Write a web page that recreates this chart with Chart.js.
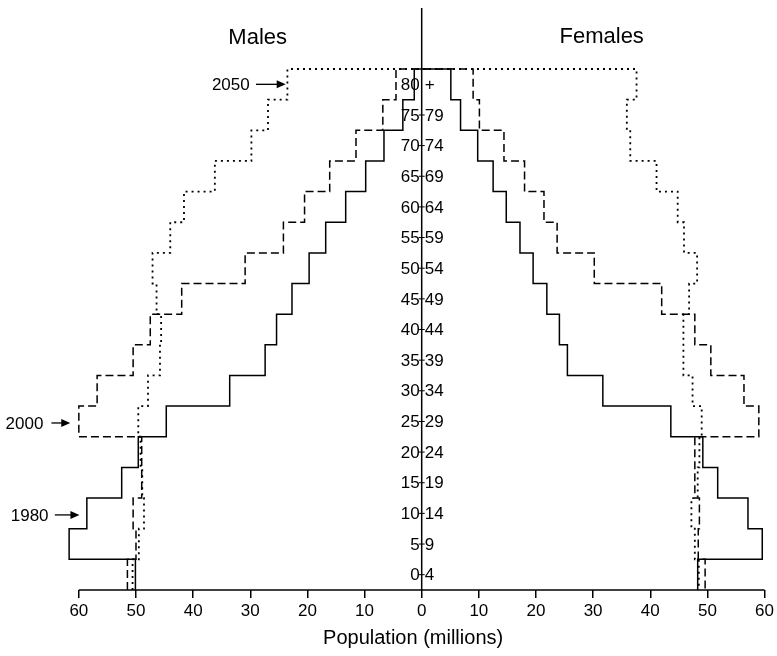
<!DOCTYPE html>
<html>
<head>
<meta charset="utf-8">
<script src="https://cdn.jsdelivr.net/npm/chart.js@4.4.1/dist/chart.umd.min.js"></script>
<style>
  body { margin: 0; background: #fff; }
  #wrap { width: 777px; height: 656px; }
</style>
</head>
<body>
<div id="wrap"><canvas id="pyramid"></canvas></div>
<script>
// age bands, youngest first
var ageGroups = ['0-4', '5-9', '10-14', '15-19', '20-24', '25-29', '30-34', '35-39', '40-44',
                 '45-49', '50-54', '55-59', '60-64', '65-69', '70-74', '75-79', '80+'];

// population in millions
var males1980   = [50.1, 61.7, 58.6, 52.5, 49.6, 44.7, 33.6, 27.4, 25.4, 22.7, 19.7, 16.8, 13.3, 9.8, 6.6, 3.3, 1.3];
var females1980 = [48.3, 59.6, 57.1, 51.8, 49.2, 43.6, 31.7, 25.5, 24.1, 21.9, 19.5, 17.2, 14.8, 12.5, 9.8, 6.8, 5.1];
var males2000   = [51.5, 50.0, 50.5, 49.0, 49.0, 60.0, 56.8, 50.5, 47.5, 42.0, 30.9, 24.2, 20.5, 16.1, 11.5, 6.8, 4.5];
var females2000 = [49.6, 48.4, 48.6, 47.8, 47.8, 59.0, 56.4, 50.6, 47.8, 42.0, 30.2, 23.7, 21.4, 18.0, 14.4, 10.1, 9.0];
var males2050   = [50.6, 49.5, 48.6, 48.9, 49.2, 49.6, 47.9, 45.8, 45.6, 46.4, 47.1, 44.0, 41.6, 36.2, 29.8, 26.9, 23.5];
var females2050 = [48.5, 47.8, 47.2, 48.3, 48.6, 49.0, 47.4, 45.8, 45.8, 46.8, 48.2, 45.9, 44.8, 41.1, 36.5, 35.9, 37.6];

var xTicks = [-60, -50, -40, -30, -20, -10, 0, 10, 20, 30, 40, 50, 60];

var FONT = '"Liberation Sans", Arial, Helvetica, sans-serif';

// one stepped outline per year: up the male side, across the top, down the female side
function outline(m, f) {
  var pts = [];
  for (var i = 0; i < m.length; i++) {
    pts.push({x: -m[i], y: i});
    pts.push({x: -m[i], y: i + 1});
  }
  for (var j = f.length - 1; j >= 0; j--) {
    pts.push({x: f[j], y: j + 1});
    pts.push({x: f[j], y: j});
  }
  return pts;
}

function lineSet(label, pts, width, dash) {
  return {
    label: label,
    data: pts,
    showLine: true,
    fill: false,
    tension: 0,
    pointRadius: 0,
    borderColor: '#000',
    borderWidth: width,
    borderDash: dash,
    borderJoinStyle: 'miter',
    clip: false
  };
}

// year labels with arrows (value coords of text end, arrow start, arrow tip, band)
var yearNotes = [
  {text: '2050', textEnd: -30.1, from: -29.0, to: -23.8, y: 16.5},
  {text: '2000', textEnd: -66.2, from: -64.8, to: -61.5, y: 5.45},
  {text: '1980', textEnd: -65.3, from: -64.2, to: -59.9, y: 2.45}
];

var overlay = {
  id: 'overlay',
  afterDatasetsDraw: function(chart) {
    var ctx = chart.ctx, xs = chart.scales.x, ys = chart.scales.y;
    var x0 = xs.getPixelForValue(0);
    var yb = ys.getPixelForValue(0);
    ctx.save();
    ctx.strokeStyle = '#000';
    ctx.fillStyle = '#000';
    ctx.lineWidth = 1.5;

    // centre axis
    ctx.beginPath();
    ctx.moveTo(x0, 8);
    ctx.lineTo(x0, yb);
    ctx.stroke();

    // bottom axis line
    ctx.beginPath();
    ctx.moveTo(xs.getPixelForValue(-60), yb);
    ctx.lineTo(xs.getPixelForValue(60), yb);
    ctx.stroke();

    // age labels straddling the axis
    ctx.font = '17px ' + FONT;
    ctx.textBaseline = 'middle';
    ctx.lineWidth = 1;
    ageGroups.forEach(function(g, i) {
      var py = ys.getPixelForValue(i + 0.5);
      var left, right;
      if (g.indexOf('-') > 0) {
        left = g.split('-')[0];
        right = g.split('-')[1];
        ctx.beginPath();
        ctx.moveTo(x0 - 3, py);
        ctx.lineTo(x0 + 3, py);
        ctx.stroke();
      } else {
        left = g.replace('+', '');
        right = '+';
      }
      ctx.textAlign = 'right';
      ctx.fillText(left, x0 - 2, py + 1);
      ctx.textAlign = 'left';
      ctx.fillText(right, x0 + 3, py + 1);
    });

    // side headings
    ctx.font = '22px ' + FONT;
    ctx.textAlign = 'center';
    ctx.fillText('Males', xs.getPixelForValue(-28.7), chart.chartArea.top - 31);
    ctx.fillText('Females', xs.getPixelForValue(31.5), chart.chartArea.top - 32);

    // year notes
    ctx.font = '17px ' + FONT;
    ctx.lineWidth = 1.3;
    yearNotes.forEach(function(n) {
      var py = ys.getPixelForValue(n.y);
      var tip = xs.getPixelForValue(n.to);
      ctx.textAlign = 'right';
      ctx.fillText(n.text, xs.getPixelForValue(n.textEnd), py + 1);
      ctx.beginPath();
      ctx.moveTo(xs.getPixelForValue(n.from), py);
      ctx.lineTo(tip - 6, py);
      ctx.stroke();
      ctx.beginPath();
      ctx.moveTo(tip, py);
      ctx.lineTo(tip - 9, py - 4);
      ctx.lineTo(tip - 9, py + 4);
      ctx.closePath();
      ctx.fill();
    });
    ctx.restore();
  }
};

var chart = new Chart(document.getElementById('pyramid'), {
  type: 'scatter',
  data: {
    datasets: [
      lineSet('2050', outline(males2050, females2050), 1.8, [2, 4]),
      lineSet('2000', outline(males2000, females2000), 1.5, [8, 4]),
      lineSet('1980', outline(males1980, females1980), 1.5, [])
    ]
  },
  options: {
    responsive: true,
    maintainAspectRatio: false,
    animation: false,
    devicePixelRatio: 1,
    layout: { padding: { top: 69, left: 61.7, right: 10.3, bottom: 0 } },
    plugins: {
      legend: { display: false },
      tooltip: { enabled: false }
    },
    scales: {
      x: {
        type: 'linear',
        min: -63,
        max: 60,
        afterBuildTicks: function(s) {
          s.ticks = xTicks.map(function(v) { return {value: v}; });
        },
        afterFit: function(s) { s.height = 66; },
        border: { display: false },
        grid: {
          drawOnChartArea: false,
          drawTicks: true,
          tickLength: 8,
          color: '#000',
          lineWidth: 1.5
        },
        ticks: {
          color: '#000',
          font: { family: FONT, size: 17 },
          padding: 3,
          maxRotation: 0,
          autoSkip: false,
          callback: function(v) { return Math.abs(v); }
        },
        title: {
          display: true,
          text: 'Population (millions)',
          color: '#000',
          font: { family: FONT, size: 20 },
          padding: { top: 0, bottom: 6 }
        }
      },
      y: {
        type: 'linear',
        min: 0,
        max: 17,
        display: false
      }
    }
  },
  plugins: [overlay]
});
</script>
</body>
</html>
